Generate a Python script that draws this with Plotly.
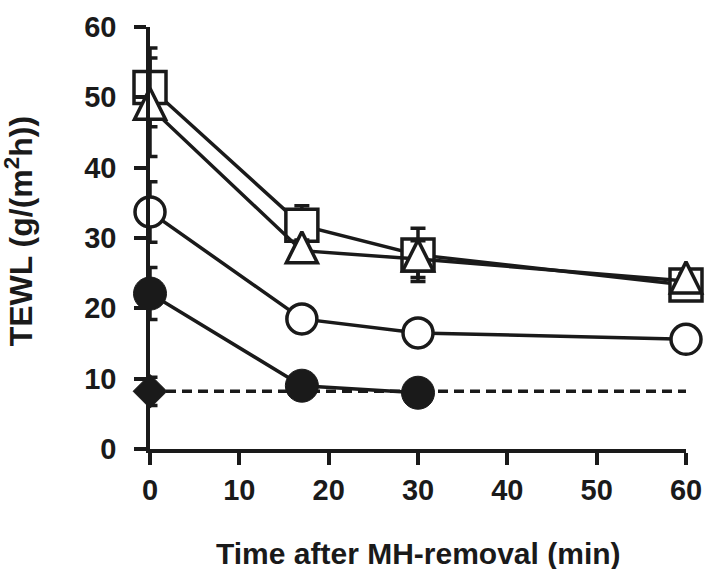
import plotly.graph_objects as go

INK = "#1a1a1a"
FONT = "Liberation Sans"

time_min = [0, 17, 30, 60]
time_short = [0, 17, 30]
baseline_x = [0, 60]

square_vals = [51.4, 31.8, 27.6, 23.3]
square_err = [5.6, 2.8, 3.8, 1.0]

triangle_vals = [48.6, 28.2, 27.0, 23.9]
triangle_err = [7.0, 1.5, 2.6, 1.0]

open_circle_vals = [33.7, 18.5, 16.5, 15.6]
open_circle_err = [4.3, 1.0, 1.0, 1.0]

filled_circle_vals = [22.1, 9.0, 8.0]
filled_circle_err = [3.7, 1.0, 1.0]

diamond_x = [0]
diamond_vals = [8.2]
diamond_err = [2.0]
baseline_vals = [8.2, 8.2]

x_ticks = [0, 10, 20, 30, 40, 50, 60]
y_ticks = [0, 10, 20, 30, 40, 50, 60]

fig = go.Figure()


def err(vals):
    return dict(type="data", array=vals, visible=True, color=INK, thickness=3.5, width=7.5)


# dashed baseline
fig.add_trace(go.Scatter(x=baseline_x, y=baseline_vals, mode="lines",
                         line=dict(color=INK, width=3.5, dash="10px,6px"),
                         hoverinfo="skip", cliponaxis=False))

fig.add_trace(go.Scatter(x=diamond_x, y=diamond_vals, mode="markers",
                         error_y=err(diamond_err),
                         marker=dict(symbol="diamond", size=26, color=INK,
                                     line=dict(color=INK, width=1)),
                         cliponaxis=False))

fig.add_trace(go.Scatter(x=time_short, y=filled_circle_vals, mode="lines+markers",
                         error_y=err(filled_circle_err),
                         line=dict(color=INK, width=3.5),
                         marker=dict(symbol="circle", size=33, color=INK,
                                     line=dict(color=INK, width=1)),
                         cliponaxis=False))

fig.add_trace(go.Scatter(x=time_min, y=open_circle_vals, mode="lines+markers",
                         error_y=err(open_circle_err),
                         line=dict(color=INK, width=3.5),
                         marker=dict(symbol="circle", size=30, color="white",
                                     line=dict(color=INK, width=3.5)),
                         cliponaxis=False))

fig.add_trace(go.Scatter(x=time_min, y=square_vals, mode="lines+markers",
                         error_y=err(square_err),
                         line=dict(color=INK, width=3.5),
                         marker=dict(symbol="square", size=32, color="white",
                                     line=dict(color=INK, width=3.5)),
                         cliponaxis=False))

fig.add_trace(go.Scatter(x=time_min, y=triangle_vals, mode="lines+markers",
                         error_y=err(triangle_err),
                         line=dict(color=INK, width=3.5),
                         marker=dict(symbol="arrow-down", angle=180, standoff=19, size=31,
                                     color="white", line=dict(color=INK, width=3.5)),
                         cliponaxis=False))

axis_common = dict(
    showline=True, linecolor=INK, linewidth=3.5,
    ticks="outside", ticklen=12, tickwidth=3.5, tickcolor=INK,
    showgrid=False, zeroline=False, automargin=False,
    tickfont=dict(family=FONT, size=29, color=INK, weight="bold"),
)

fig.update_xaxes(range=[0, 60], tickmode="array", tickvals=x_ticks,
                 ticktext=[str(v) for v in x_ticks], **axis_common)
fig.update_yaxes(range=[0, 60], tickmode="array", tickvals=y_ticks,
                 ticktext=[str(v) for v in y_ticks], ticklabelstandoff=12, **axis_common)

fig.add_annotation(text="Time after MH-removal (min)", xref="paper", yref="paper",
                   x=0.5, y=-0.248, xanchor="center", yanchor="middle", showarrow=False,
                   font=dict(family=FONT, size=30, color=INK, weight="bold"))
fig.add_annotation(text="TEWL (g/(m<sup>2</sup>h))", xref="paper", yref="paper",
                   x=-0.245, y=0.515, xanchor="center", yanchor="middle", showarrow=False,
                   textangle=-90,
                   font=dict(family=FONT, size=32, color=INK, weight="bold"))

fig.update_layout(
    width=705, height=569, autosize=False,
    margin=dict(l=150, r=19, t=27, b=120, autoexpand=False),
    paper_bgcolor="white", plot_bgcolor="white",
    showlegend=False,
)

fig.write_html("out.html",
               config={"responsive": False, "displayModeBar": False},
               post_script="document.body.style.margin='0';document.body.style.padding='0';"
                           "document.body.style.overflow='hidden';")
